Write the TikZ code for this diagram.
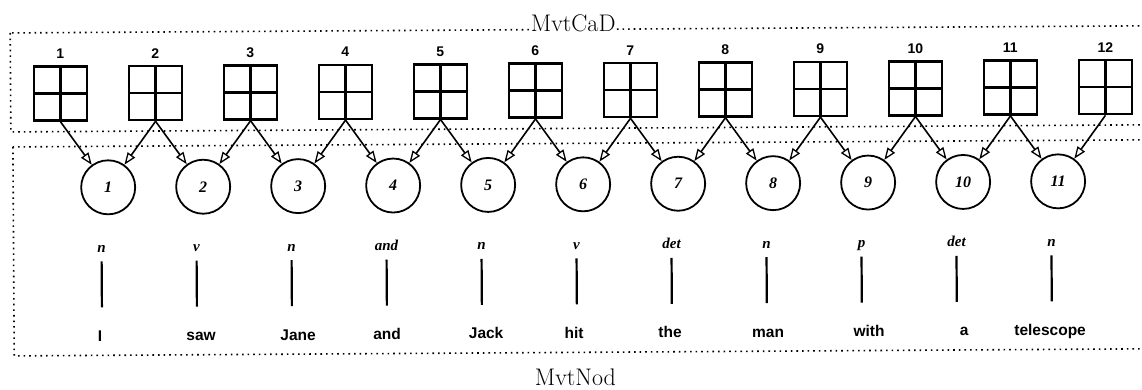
\documentclass[tikz,border=0pt]{standalone}
\usepackage{fontspec}
\setsansfont{Liberation Sans}
\newfontfamily\tmsfont{Liberation Serif}
\usetikzlibrary{arrows.meta}
\begin{document}
\begin{tikzpicture}[x=1pt,y=-1pt,
  dotbox/.style={line width=1.6pt, dash pattern=on 1.6pt off 4pt},
  gridbox/.style={draw, line width=2.6pt, minimum width=53pt, minimum height=54pt, inner sep=0pt,
    path picture={\draw[line width=2.6pt] (path picture bounding box.north)--(path picture bounding box.south)
      (path picture bounding box.west)--(path picture bounding box.east);}},
  gnum/.style={anchor=base, inner sep=0pt, font=\sffamily\bfseries\fontsize{14}{14}\selectfont},
  cnode/.style={circle, draw, line width=1.8pt, minimum size=54pt, inner sep=0pt,
    font=\tmsfont\bfseries\itshape\fontsize{16}{16}\selectfont},
  tagl/.style={anchor=base, inner sep=0pt, font=\tmsfont\bfseries\itshape\fontsize{15}{15}\selectfont},
  wordl/.style={anchor=base, inner sep=0pt, font=\sffamily\bfseries\fontsize{15.5}{15.5}\selectfont},
  stem/.style={line width=2.2pt},
  arr/.style={line width=1.6pt, -{Triangle[open, length=12pt, width=9pt, line width=1.3pt]}},
  boxlabel/.style={anchor=base, fill=white, inner sep=1pt, font=\fontsize{24}{24}\selectfont}
]
\useasboundingbox (0,0) rectangle (1142,390);
\clip (0,0) rectangle (1142,390);
\begin{scope}[rotate around={0.36:(0,0)}]
  % boxes
  \draw[dotbox] (10,33) rectangle (1170,132);
  \draw[dotbox] (12,147) rectangle (1170,356);
  \node[boxlabel] (cad) at (573,35) {MvtCaD};
  \node[boxlabel, fill=none] (nod) at (573,389) {MvtNod};
  % grids
  \foreach \i in {1,...,12} {
    \pgfmathsetmacro\gx{60+95*(\i-1)}
    \node[gridbox] (g\i) at (\gx,94) {};
    \node[gnum] (n\i) at (\gx,59) {\i};
  }
  % circles
  \foreach \i in {1,...,11} {
    \pgfmathsetmacro\cx{107+95*(\i-1)}
    \node[cnode] (c\i) at (\cx,188) {\i};
  }
  % arrows
  \foreach \i in {1,...,11} {
    \pgfmathtruncatemacro\j{\i+1}
    \draw[arr] (g\i.south) -- (c\i);
    \draw[arr] (g\j.south) -- (c\i);
  }
  % tags, stems, words
  \foreach \i/\t/\w/\wx in {1/n/I/98, 2/v/saw/199, 3/n/Jane/296, 4/and/and/385, 5/n/Jack/484,
      6/v/hit/572, 7/det/the/668, 8/n/man/766, 9/p/with/867, 10/det/a/962, 11/n/telescope/1048} {
    \pgfmathsetmacro\tx{100+95*(\i-1)}
    \node[tagl] (t\i) at (\tx,253) {\t};
    \node[wordl] (w\i) at (\wx,342) {\w};
    \draw[stem] ([yshift=-9pt]t\i.base) -- ++(0,46);
  }
\end{scope}
\end{tikzpicture}
\end{document}
